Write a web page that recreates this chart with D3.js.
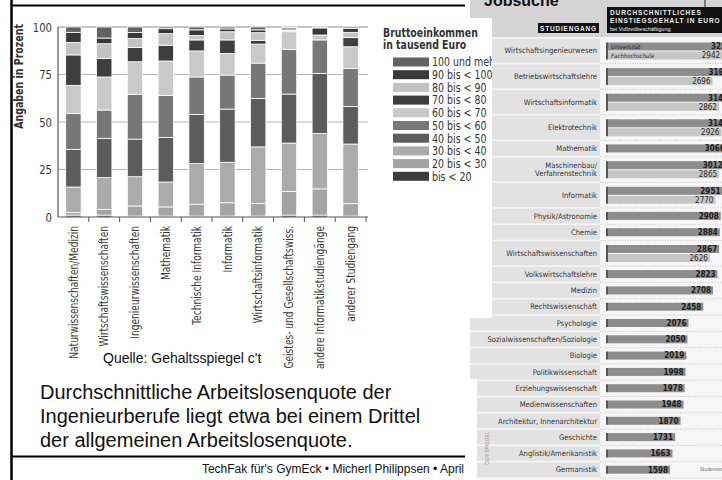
<!DOCTYPE html>
<html>
<head>
<meta charset="utf-8">
<script src="https://cdn.jsdelivr.net/npm/d3@7"></script>
<style>
  body { margin: 0; background: #fff; }
  svg { display: block; }
</style>
</head>
<body>
<script>
const width = 722, height = 480;
const narrow = "'Liberation Sans Narrow', 'DejaVu Sans Condensed', sans-serif";
const arial = "'Liberation Sans', Arial, sans-serif";

// --- gestapelte Säulen: Bruttoeinkommen nach Studienrichtung ---
const categories = [
  "Naturwissenschaften/Medizin", "Wirtschaftswissenschaften", "Ingenieurwissenschaften",
  "Mathematik", "Technische Informatik", "Informatik", "Wirtschaftsinformatik",
  "Geistes- und Gesellschaftswiss.", "andere Informatikstudiengänge", "anderer Studiengang"
];
const bands = [
  "bis < 20", "20 bis < 30", "30 bis < 40", "40 bis < 50", "50 bis < 60",
  "60 bis < 70", "70 bis < 80", "80 bis < 90", "90 bis < 100", "100 und mehr"
];
const bandColors = [
  "#3c3c3c", "#a4a4a4", "#ababab", "#5c5c5c", "#777777",
  "#c9c9c9", "#3e3e3e", "#c3c3c3", "#383838", "#626262"
];
// Anteile in Prozent, von "bis < 20" bis "100 und mehr"
const shares = [
  [1.0, 1.4, 13.4, 19.8, 18.8, 14.9, 16.0, 6.6, 5.3, 2.8],
  [1.0, 3.0, 16.7, 20.7, 14.9, 17.4, 9.8, 7.7, 3.0, 5.8],
  [0.5, 5.3, 15.4, 19.8, 23.6, 17.1, 7.5, 4.7, 3.2, 2.9],
  [0.5, 4.8, 13.1, 23.4, 22.2, 18.1, 8.3, 6.1, 2.6, 0.9],
  [0.5, 6.2, 21.4, 25.9, 19.7, 13.7, 5.8, 2.3, 3.0, 1.5],
  [0.5, 7.0, 21.3, 28.0, 17.9, 11.4, 7.1, 4.3, 1.5, 1.0],
  [0.5, 6.6, 29.8, 25.5, 18.6, 10.0, 2.0, 4.0, 1.5, 1.5],
  [1.0, 12.5, 25.4, 25.8, 23.5, 9.3, 0.5, 0.5, 1.0, 0.5],
  [1.0, 13.8, 29.1, 31.7, 17.6, 2.6, 0.0, 0.0, 3.7, 0.5],
  [0.5, 6.5, 31.4, 19.7, 20.0, 11.5, 4.8, 2.8, 2.1, 0.7]
];
const yTicks = [0, 25, 50, 75, 100];

// --- Zeitungsgrafik rechts: Einstiegsgehalt ---
const studiengaenge = [
  "Wirtschaftsingenieurwesen", "Betriebswirtschaftslehre", "Wirtschaftsinformatik",
  "Elektrotechnik", "Mathematik", "Maschinenbau/|Verfahrenstechnik", "Informatik",
  "Physik/Astronomie", "Chemie", "Wirtschaftswissenschaften", "Volkswirtschaftslehre",
  "Medizin", "Rechtswissenschaft", "Psychologie", "Sozialwissenschaften/Soziologie",
  "Biologie", "Politikwissenschaft", "Erziehungswissenschaft", "Medienwissenschaften",
  "Architektur, Innenarchitektur", "Geschichte", "Anglistik/Amerikanistik", "Germanistik"
];
const gehaltUni = [3224, 3163, 3149, 3148, 3066, 3012, 2951, 2908, 2884, 2867, 2823,
  2708, 2458, 2076, 2050, 2019, 1998, 1978, 1948, 1870, 1731, 1663, 1598];
const gehaltFH = [2942, 2696, 2862, 2926, null, 2865, 2770, null, null, 2626, null,
  null, null, null, null, null, null, null, null, null, null, null, null];

// squeeze text like a condensed face
function condense(sel, k) {
  sel.each(function () {
    const w = this.getComputedTextLength();
    d3.select(this).attr("textLength", w * k).attr("lengthAdjust", "spacingAndGlyphs");
  });
}

const svg = d3.select("body").append("svg")
  .attr("width", width)
  .attr("height", height)
  .attr("viewBox", [0, 0, width, height]);

const defs = svg.append("defs");
defs.append("clipPath").attr("id", "scanClip")
  .append("rect").attr("x", 470).attr("y", 0).attr("width", 252).attr("height", 480);
defs.append("clipPath").attr("id", "legendClip")
  .append("rect").attr("x", 370).attr("y", 15).attr("width", 122).attr("height", 180);

// ================= Zeitungsgrafik =================
const scan = svg.append("g").attr("clip-path", "url(#scanClip)");

scan.append("rect").attr("x", 470).attr("y", 0).attr("width", 252).attr("height", 480).attr("fill", "#f6f6f6");
scan.append("rect").attr("x", 470).attr("y", 0).attr("width", 252).attr("height", 37).attr("fill", "#d4d4d4");
scan.append("text").attr("x", 484).attr("y", 6)
  .attr("font-family", arial).attr("font-weight", "bold").attr("font-size", 16).attr("fill", "#111")
  .text("Jobsuche");
scan.append("line").attr("x1", 705).attr("x2", 705).attr("y1", 0).attr("y2", 7)
  .attr("stroke", "#222").attr("stroke-width", 1);

scan.append("rect").attr("x", 538).attr("y", 23).attr("width", 61).attr("height", 10).attr("fill", "#111");
scan.append("text").attr("x", 568.5).attr("y", 30.5).attr("text-anchor", "middle")
  .attr("font-family", arial).attr("font-weight", "bold").attr("font-size", 6.5)
  .attr("letter-spacing", 0.8).attr("fill", "#eee").text("STUDIENGANG");

scan.append("rect").attr("x", 607).attr("y", 7).attr("width", 120).attr("height", 26).attr("fill", "#111");
const head = scan.append("text").attr("font-family", arial).attr("fill", "#eee");
head.append("tspan").attr("x", 610).attr("y", 14.5).attr("font-weight", "bold").attr("font-size", 6.5)
  .attr("letter-spacing", 0.9).text("DURCHSCHNITTLICHES");
head.append("tspan").attr("x", 610).attr("y", 22.5).attr("font-weight", "bold").attr("font-size", 6.5)
  .attr("letter-spacing", 0.9).text("EINSTIEGSGEHALT IN EURO");
head.append("tspan").attr("x", 610).attr("y", 30.5).attr("font-size", 5.5).text("bei Vollzeitbeschäftigung");

let rowTop = 38;
const rows = studiengaenge.map((name, i) => {
  const h = gehaltFH[i] ? 25.6 : 16.3;
  const r = { name, uni: gehaltUni[i], fh: gehaltFH[i], top: rowTop, h };
  rowTop += h;
  return r;
});

const xs = d3.scaleLinear().domain([0, 3000]).range([608, 724.3]);

const row = scan.selectAll("g.row").data(rows).join("g").attr("class", "row");

row.append("rect")
  .attr("x", 470).attr("y", d => d.top + 0.8)
  .attr("width", 130).attr("height", d => d.h - 1.6)
  .attr("fill", "#e2e2e2");

row.append("line")
  .attr("x1", 600).attr("x2", 722)
  .attr("y1", d => d.top + d.h).attr("y2", d => d.top + d.h)
  .attr("stroke", "#c4c4c4").attr("stroke-dasharray", "1,1.5");

row.append("text")
  .attr("text-anchor", "end")
  .attr("font-family", narrow).attr("font-size", 7.6).attr("fill", "#333")
  .each(function (d) {
    const parts = d.name.split("|");
    const t = d3.select(this);
    parts.forEach((p, k) => {
      t.append("tspan").attr("x", 597)
        .attr("y", d.top + d.h / 2 + 2.6 + (k - (parts.length - 1) / 2) * 8.2)
        .text(p);
    });
  });

const uniY = d => d.fh ? d.top + 4.5 : d.top + 4;
const fhY = d => d.top + 13.5;

row.append("rect")
  .attr("x", xs(0)).attr("y", uniY)
  .attr("width", d => xs(d.uni) - xs(0)).attr("height", 8)
  .attr("fill", "#8d8d8d");

row.filter(d => d.fh).append("rect")
  .attr("x", xs(0)).attr("y", fhY)
  .attr("width", d => xs(d.fh) - xs(0)).attr("height", 8)
  .attr("fill", "#c6c6c6");

row.append("line")
  .attr("x1", 607).attr("x2", 607)
  .attr("y1", d => uniY(d)).attr("y2", d => d.fh ? fhY(d) + 8 : uniY(d) + 8)
  .attr("stroke", "#222").attr("stroke-width", 1.5);

row.append("text")
  .attr("x", d => xs(d.uni) - 2).attr("y", d => uniY(d) + 6.8)
  .attr("text-anchor", "end")
  .attr("font-family", narrow).attr("font-weight", "bold").attr("font-size", 8).attr("fill", "#1c1c1c")
  .text(d => d.uni);

row.filter(d => d.fh).append("text")
  .attr("x", d => xs(d.fh) - 2).attr("y", d => fhY(d) + 6.8)
  .attr("text-anchor", "end")
  .attr("font-family", narrow).attr("font-size", 8).attr("fill", "#2a2a2a")
  .text(d => d.fh);

const first = rows[0];
scan.append("text").attr("x", 611).attr("y", uniY(first) + 6)
  .attr("font-family", narrow).attr("font-style", "italic").attr("font-size", 6).attr("fill", "#222")
  .text("Universität");
scan.append("text").attr("x", 611).attr("y", fhY(first) + 6)
  .attr("font-family", narrow).attr("font-style", "italic").attr("font-size", 6).attr("fill", "#222")
  .text("Fachhochschule");

scan.append("text")
  .attr("transform", "translate(489,448) rotate(-90)")
  .attr("text-anchor", "middle")
  .attr("font-family", arial).attr("font-size", 5).attr("fill", "#8a8a8a")
  .text("DER SPIEGEL");
scan.append("text").attr("x", 700).attr("y", 471)
  .attr("font-family", narrow).attr("font-size", 5).attr("fill", "#555")
  .text("Studentenspiegel");

// weißer Legendenhintergrund über dem Scan
svg.append("rect").attr("x", 470).attr("y", 18).attr("width", 22).attr("height", 300).attr("fill", "#fff");
svg.append("rect").attr("x", 470).attr("y", 379).attr("width", 7).attr("height", 101).attr("fill", "#fff");

// ================= gestapelte Säulen =================
const x = d3.scaleBand()
  .domain(categories)
  .range([58, 366])
  .paddingInner(0.5)
  .paddingOuter(0.25);

const y = d3.scaleLinear()
  .domain([0, 100])
  .range([217, 27]);

const table = categories.map((c, i) => {
  const o = { cat: c };
  bands.forEach((b, k) => o[b] = shares[i][k]);
  return o;
});
const series = d3.stack().keys(bands)(table);

const chart = svg.append("g");

chart.append("g")
  .selectAll("line")
  .data(yTicks.filter(t => t > 0))
  .join("line")
  .attr("x1", 58).attr("x2", 368)
  .attr("y1", d => y(d)).attr("y2", d => y(d))
  .attr("stroke", d => d === 100 ? "#8a8a8a" : "#b4b4b4")
  .attr("stroke-width", 1);

chart.append("g")
  .selectAll("g")
  .data(series)
  .join("g")
  .attr("fill", (d, i) => bandColors[i])
  .selectAll("rect")
  .data(d => d)
  .join("rect")
  .attr("x", d => x(d.data.cat))
  .attr("y", d => y(d[1]))
  .attr("width", x.bandwidth())
  .attr("height", d => y(d[0]) - y(d[1]))
  .attr("stroke", "#fff")
  .attr("stroke-width", 0.8);

const gy = chart.append("g")
  .attr("transform", "translate(58,0)")
  .call(d3.axisLeft(y).tickValues(yTicks).tickSize(0).tickPadding(6));
gy.select(".domain").remove();
gy.selectAll("text")
  .attr("font-family", narrow).attr("font-size", 13).attr("fill", "#3a3a3a")
  .call(condense, 0.86);

chart.append("line").attr("x1", 58).attr("x2", 58).attr("y1", 27).attr("y2", 217)
  .attr("stroke", "#555").attr("stroke-width", 1.2);

const gx = chart.append("g")
  .attr("transform", "translate(0,217)")
  .call(d3.axisBottom(x).tickSize(0));
gx.select(".domain").remove();
gx.selectAll("text")
  .attr("transform", "rotate(-90)")
  .attr("x", -9).attr("y", 0).attr("dy", "0.35em")
  .style("text-anchor", "end")
  .attr("font-family", narrow).attr("font-size", 12).attr("fill", "#3a3a3a")
  .call(condense, 0.84);

chart.append("line").attr("x1", 58).attr("x2", 368).attr("y1", 217).attr("y2", 217)
  .attr("stroke", "#555").attr("stroke-width", 1.2);
chart.append("g")
  .selectAll("line")
  .data(d3.range(1, categories.length + 1))
  .join("line")
  .attr("x1", i => 58 + x.step() * i).attr("x2", i => 58 + x.step() * i)
  .attr("y1", 217).attr("y2", 222)
  .attr("stroke", "#555").attr("stroke-width", 1);

chart.append("text")
  .attr("transform", "translate(19,24) rotate(-90)")
  .attr("dy", "0.35em")
  .attr("text-anchor", "end")
  .attr("font-family", narrow).attr("font-weight", "bold").attr("font-size", 12.5).attr("fill", "#333")
  .text("Angaben in Prozent")
  .call(condense, 0.84);

// Legende
const legend = svg.append("g").attr("clip-path", "url(#legendClip)");
legend.selectAll("text.title").data(["Bruttoeinkommen", "in tausend Euro"]).join("text")
  .attr("class", "title")
  .attr("x", 383).attr("y", (d, i) => 37 + i * 12)
  .attr("font-family", narrow).attr("font-weight", "bold").attr("font-size", 13).attr("fill", "#333")
  .text(d => d)
  .call(condense, 0.8);

const legendItems = bands.map((b, i) => ({ label: b, color: bandColors[i] })).reverse();
const li = legend.selectAll("g.item").data(legendItems).join("g").attr("class", "item")
  .attr("transform", (d, i) => `translate(393,${62 + i * 12.7})`);
li.append("rect").attr("x", 0).attr("y", -4.5).attr("width", 36).attr("height", 9)
  .attr("fill", d => d.color);
li.append("text").attr("x", 39).attr("dy", "0.35em")
  .attr("font-family", narrow).attr("font-size", 12.5).attr("fill", "#333")
  .text(d => d.label)
  .call(condense, 0.84);

// ================= Folienrahmen und Texte =================
svg.append("line").attr("x1", 11.5).attr("x2", 11.5).attr("y1", 0).attr("y2", 480)
  .attr("stroke", "#000").attr("stroke-width", 2.5);
svg.append("line").attr("x1", 11).attr("x2", 465).attr("y1", 5.5).attr("y2", 5.5)
  .attr("stroke", "#000").attr("stroke-width", 2);
svg.append("line").attr("x1", 11).attr("x2", 465).attr("y1", 456.5).attr("y2", 456.5)
  .attr("stroke", "#000").attr("stroke-width", 2);

svg.append("text").attr("x", 103).attr("y", 363)
  .attr("font-family", arial).attr("font-size", 14).attr("fill", "#111")
  .text("Quelle: Gehaltsspiegel c't");

const bodyLines = [
  "Durchschnittliche Arbeitslosenquote der",
  "Ingenieurberufe liegt etwa bei einem Drittel",
  "der allgemeinen Arbeitslosenquote."
];
svg.append("g").selectAll("text").data(bodyLines).join("text")
  .attr("x", 40).attr("y", (d, i) => 399 + i * 24)
  .attr("font-family", arial).attr("font-size", 20).attr("fill", "#111")
  .text(d => d);

svg.append("text").attr("x", 464).attr("y", 473).attr("text-anchor", "end")
  .attr("font-family", arial).attr("font-size", 12).attr("fill", "#111")
  .text("TechFak für's GymEck • Micherl Philippsen • April");
</script>
</body>
</html>
